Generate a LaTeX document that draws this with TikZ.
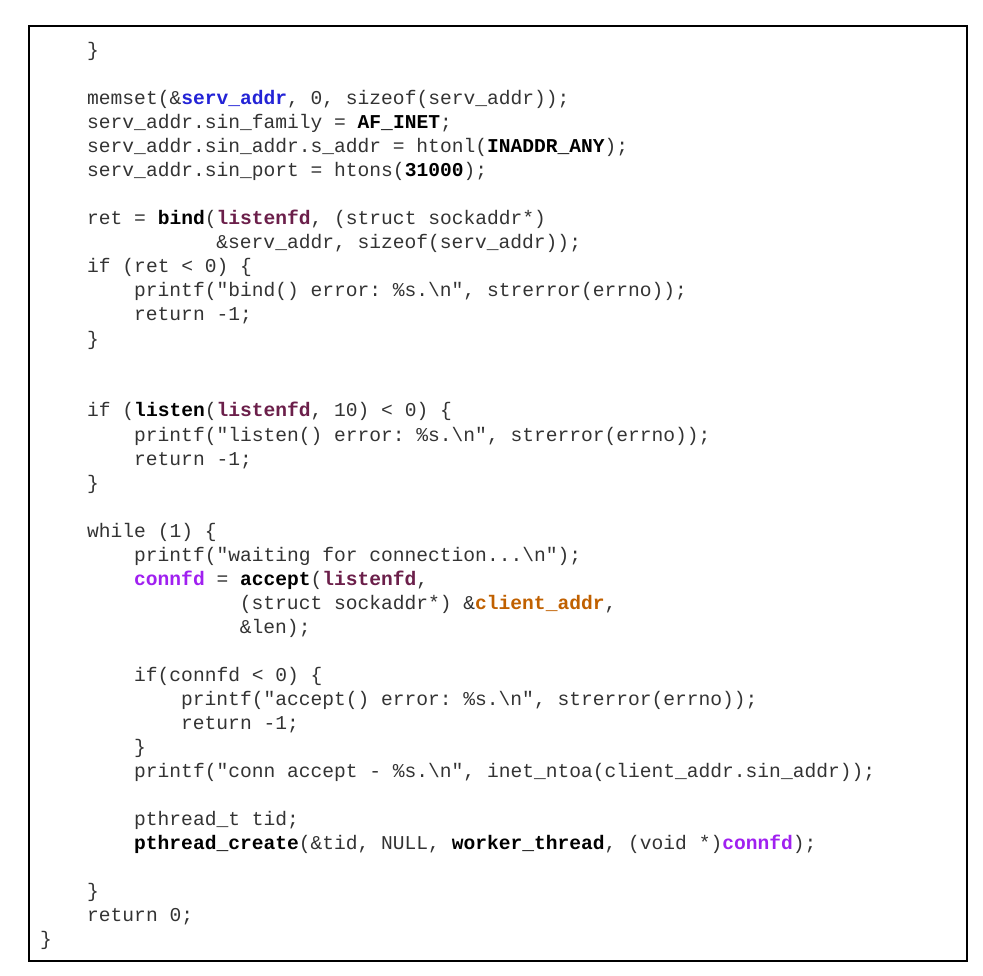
\documentclass[tikz,border=0pt]{standalone}
\usepackage{fontspec}
\setmonofont{Liberation Mono}
\definecolor{txt}{HTML}{333333}
\definecolor{cblue}{HTML}{2323D6}
\definecolor{cplum}{HTML}{6B1F4A}
\definecolor{cviol}{HTML}{A020F0}
\definecolor{corng}{HTML}{C06000}
\newcommand{\kb}[1]{\textbf{\color{black}#1}}
\newcommand{\ksa}[1]{\textbf{\color{cblue}#1}}
\newcommand{\klf}[1]{\textbf{\color{cplum}#1}}
\newcommand{\kcf}[1]{\textbf{\color{cviol}#1}}
\newcommand{\kca}[1]{\textbf{\color{corng}#1}}
\newcommand{\bs}{\textbackslash}
\tikzset{codeline/.style={anchor=base west,inner sep=0pt,font=\ttfamily\fontsize{19.6}{24}\selectfont,text=txt}}
\newcommand{\cl}[3]{\node[codeline] (l#1) at ({40+#2*11.75},{-(50+#1*24)-7}) {#3};}
\begin{document}
\begin{tikzpicture}[x=1pt,y=1pt]
\useasboundingbox (0,0) rectangle (983,-976);
\draw[line width=1.5pt] (29,-26) rectangle (967,-961);
\cl{0}{4}{\}}
\cl{2}{4}{memset(\&\ksa{serv\_addr}, 0, sizeof(serv\_addr));}
\cl{3}{4}{serv\_addr.sin\_family = \kb{AF\_INET};}
\cl{4}{4}{serv\_addr.sin\_addr.s\_addr = htonl(\kb{INADDR\_ANY});}
\cl{5}{4}{serv\_addr.sin\_port = htons(\kb{31000});}
\cl{7}{4}{ret = \kb{bind}(\klf{listenfd}, (struct sockaddr*)}
\cl{8}{15}{\&serv\_addr, sizeof(serv\_addr));}
\cl{9}{4}{if (ret < 0) \{}
\cl{10}{8}{printf("bind() error: \%s.\bs n", strerror(errno));}
\cl{11}{8}{return -1;}
\cl{12}{4}{\}}
\cl{15}{4}{if (\kb{listen}(\klf{listenfd}, 10) < 0) \{}
\cl{16}{8}{printf("listen() error: \%s.\bs n", strerror(errno));}
\cl{17}{8}{return -1;}
\cl{18}{4}{\}}
\cl{20}{4}{while (1) \{}
\cl{21}{8}{printf("waiting for connection...\bs n");}
\cl{22}{8}{\kcf{connfd} = \kb{accept}(\klf{listenfd},}
\cl{23}{17}{(struct sockaddr*) \&\kca{client\_addr},}
\cl{24}{17}{\&len);}
\cl{26}{8}{if(connfd < 0) \{}
\cl{27}{12}{printf("accept() error: \%s.\bs n", strerror(errno));}
\cl{28}{12}{return -1;}
\cl{29}{8}{\}}
\cl{30}{8}{printf("conn accept - \%s.\bs n", inet\_ntoa(client\_addr.sin\_addr));}
\cl{32}{8}{pthread\_t tid;}
\cl{33}{8}{\kb{pthread\_create}(\&tid, NULL, \kb{worker\_thread}, (void *)\kcf{connfd});}
\cl{35}{4}{\}}
\cl{36}{4}{return 0;}
\cl{37}{0}{\}}
\end{tikzpicture}
\end{document}
